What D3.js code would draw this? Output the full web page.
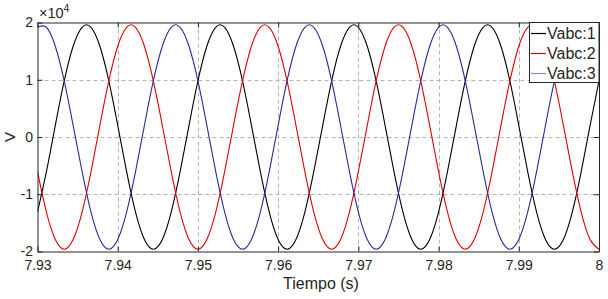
<!DOCTYPE html>
<html lang="es">
<head>
<meta charset="UTF-8">
<title>Vabc</title>
<script src="https://d3js.org/d3.v7.min.js"></script>
<style>
    body { margin: 0; background: #fff; }
    svg text { font-family: "Liberation Sans", Arial, sans-serif; fill: #262626; }
</style>
</head>
<body>
<div id="chart"></div>
<script>
    // muestras cada 1/900 s
    const tiempo = [
        7.93, 7.93111, 7.93222, 7.93333, 7.93444, 7.93556, 7.93667, 7.93778, 7.93889,
        7.94, 7.94111, 7.94222, 7.94333, 7.94444, 7.94556, 7.94667, 7.94778, 7.94889,
        7.95, 7.95111, 7.95222, 7.95333, 7.95444, 7.95556, 7.95667, 7.95778, 7.95889,
        7.96, 7.96111, 7.96222, 7.96333, 7.96444, 7.96556, 7.96667, 7.96778, 7.96889,
        7.97, 7.97111, 7.97222, 7.97333, 7.97444, 7.97556, 7.97667, 7.97778, 7.97889,
        7.98, 7.98111, 7.98222, 7.98333, 7.98444, 7.98556, 7.98667, 7.98778, 7.98889,
        7.99, 7.99111, 7.99222, 7.99333, 7.99444, 7.99556, 7.99667, 7.99778, 7.99889,
        8.0
    ];

    const vabc1 = [
        -13112, -6056, 2048, 9798, 15854, 19168, 19168, 15854, 9798, 2048, -6056, -13112, -17902, -19596, -17902,
        -13112, -6056, 2048, 9798, 15854, 19168, 19168, 15854, 9798, 2048, -6056, -13112, -17902, -19596, -17902,
        -13112, -6056, 2048, 9798, 15854, 19168, 19168, 15854, 9798, 2048, -6056, -13112, -17902, -19596, -17902,
        -13112, -6056, 2048, 9798, 15854, 19168, 19168, 15854, 9798, 2048, -6056, -13112, -17902, -19596, -17902,
        -13112, -6056, 2048, 9798
    ];
    const vabc2 = [
        -6056, -13112, -17902, -19596, -17902, -13112, -6056, 2048, 9798, 15854, 19168, 19168, 15854, 9798, 2048,
        -6056, -13112, -17902, -19596, -17902, -13112, -6056, 2048, 9798, 15854, 19168, 19168, 15854, 9798, 2048,
        -6056, -13112, -17902, -19596, -17902, -13112, -6056, 2048, 9798, 15854, 19168, 19168, 15854, 9798, 2048,
        -6056, -13112, -17902, -19596, -17902, -13112, -6056, 2048, 9798, 15854, 19168, 19168, 15854, 9798, 2048,
        -6056, -13112, -17902, -19596
    ];
    const vabc3 = [
        19168, 19168, 15854, 9798, 2048, -6056, -13112, -17902, -19596, -17902, -13112, -6056, 2048, 9798, 15854,
        19168, 19168, 15854, 9798, 2048, -6056, -13112, -17902, -19596, -17902, -13112, -6056, 2048, 9798, 15854,
        19168, 19168, 15854, 9798, 2048, -6056, -13112, -17902, -19596, -17902, -13112, -6056, 2048, 9798, 15854,
        19168, 19168, 15854, 9798, 2048, -6056, -13112, -17902, -19596, -17902, -13112, -6056, 2048, 9798, 15854,
        19168, 19168, 15854, 9798
    ];

    const nombres = ["Vabc:1", "Vabc:2", "Vabc:3"];
    const xTicks = [7.93, 7.94, 7.95, 7.96, 7.97, 7.98, 7.99, 8];
    const xTickLabels = ["7.93", "7.94", "7.95", "7.96", "7.97", "7.98", "7.99", "8"];
    const yTicks = [-20000, -10000, 0, 10000, 20000];
    const yTickLabels = ["-2", "-1", "0", "1", "2"];

    const colores = ["#000000", "#e60000", "#2a2a9c"];
    const coloresLeyenda = ["#000000", "#e60000", "#8c8cc8"];

    const W = 608, H = 299;
    const mLeft = 37.5, mRight = 599, mTop = 22.5, mBottom = 251.5;

    const svg = d3.select("#chart").append("svg")
        .attr("width", W)
        .attr("height", H);

    const x = d3.scaleLinear().domain([7.93, 8]).range([mLeft, mRight]);
    const y = d3.scaleLinear().domain([-20000, 20000]).range([mBottom, mTop]);

    // grid
    const grid = svg.append("g")
        .attr("stroke", "#b4b4b4")
        .attr("stroke-width", 1)
        .attr("stroke-dasharray", "4,3");
    grid.selectAll(".gx")
        .data(xTicks.slice(1, -1))
        .enter().append("line")
        .attr("x1", d => Math.round(x(d)) + 0.5)
        .attr("x2", d => Math.round(x(d)) + 0.5)
        .attr("y1", mTop)
        .attr("y2", mBottom);
    grid.selectAll(".gy")
        .data(yTicks.slice(1, -1))
        .enter().append("line")
        .attr("x1", mLeft)
        .attr("x2", mRight)
        .attr("y1", d => Math.round(y(d)) + 0.5)
        .attr("y2", d => Math.round(y(d)) + 0.5);

    // lines
    svg.append("clipPath").attr("id", "clip")
        .append("rect")
        .attr("x", mLeft).attr("y", mTop - 1)
        .attr("width", mRight - mLeft).attr("height", mBottom - mTop + 2);

    const series = [vabc1, vabc2, vabc3];
    const line = d3.line()
        .x((d, i) => x(tiempo[i]))
        .y(d => y(d))
        .curve(d3.curveNatural);

    svg.append("g")
        .attr("clip-path", "url(#clip)")
        .selectAll("path")
        .data(series)
        .enter().append("path")
        .attr("d", d => line(d))
        .attr("fill", "none")
        .attr("stroke", (d, i) => colores[i])
        .attr("stroke-width", 1.1);

    // axes (box with inner ticks on all sides)
    function styleAxis(g) {
        g.selectAll("path, line").attr("stroke", "#262626");
        g.selectAll("text").style("font-size", "14px").attr("fill", "#262626");
    }

    svg.append("g")
        .attr("transform", "translate(0," + mBottom + ")")
        .call(d3.axisBottom(x).tickValues(xTicks)
            .tickFormat((d, i) => xTickLabels[i])
            .tickSizeInner(-5).tickSizeOuter(0).tickPadding(9))
        .call(styleAxis);

    svg.append("g")
        .attr("transform", "translate(0," + mTop + ")")
        .call(d3.axisTop(x).tickValues(xTicks).tickFormat("")
            .tickSizeInner(-5).tickSizeOuter(0))
        .call(styleAxis);

    svg.append("g")
        .attr("transform", "translate(" + mLeft + ",0)")
        .call(d3.axisLeft(y).tickValues(yTicks)
            .tickFormat((d, i) => yTickLabels[i])
            .tickSizeInner(-5).tickSizeOuter(0).tickPadding(4.5))
        .call(styleAxis);

    svg.append("g")
        .attr("transform", "translate(" + mRight + ",0)")
        .call(d3.axisRight(y).tickValues(yTicks).tickFormat("")
            .tickSizeInner(-5).tickSizeOuter(0))
        .call(styleAxis);

    svg.selectAll(".domain").attr("stroke-width", 1);
    svg.selectAll(".tick text").attr("font-family", "Liberation Sans, Arial, sans-serif");

    // exponent label
    const expo = svg.append("text")
        .attr("x", 39)
        .attr("y", 18)
        .attr("fill", "#444")
        .style("font-size", "14.5px");
    expo.append("tspan").text("\u00d710");
    expo.append("tspan").attr("dy", -6).style("font-size", "10.5px").text("4");

    // axis titles
    svg.append("text")
        .attr("x", 321)
        .attr("y", 289)
        .attr("text-anchor", "middle")
        .style("font-size", "16px")
        .text("Tiempo (s)");

    svg.append("text")
        .attr("transform", "translate(15," + (y(0)) + ") rotate(-90)")
        .attr("text-anchor", "middle")
        .style("font-size", "15px")
        .text("V");

    // legend
    const leg = svg.append("g");
    leg.append("rect")
        .attr("x", 529.5).attr("y", mTop)
        .attr("width", mRight - 529.5).attr("height", 60)
        .attr("fill", "#fff")
        .attr("stroke", "#262626")
        .attr("stroke-width", 1);
    nombres.forEach(function (n, i) {
        const yy = mTop + 11 + i * 20;
        leg.append("line")
            .attr("x1", 531).attr("x2", 546)
            .attr("y1", yy).attr("y2", yy)
            .attr("stroke", coloresLeyenda[i])
            .attr("stroke-width", 1.2);
        leg.append("text")
            .attr("x", 547)
            .attr("y", yy)
            .attr("dy", "0.36em")
            .style("font-size", "16px")
            .text(n);
    });
</script>
</body>
</html>
